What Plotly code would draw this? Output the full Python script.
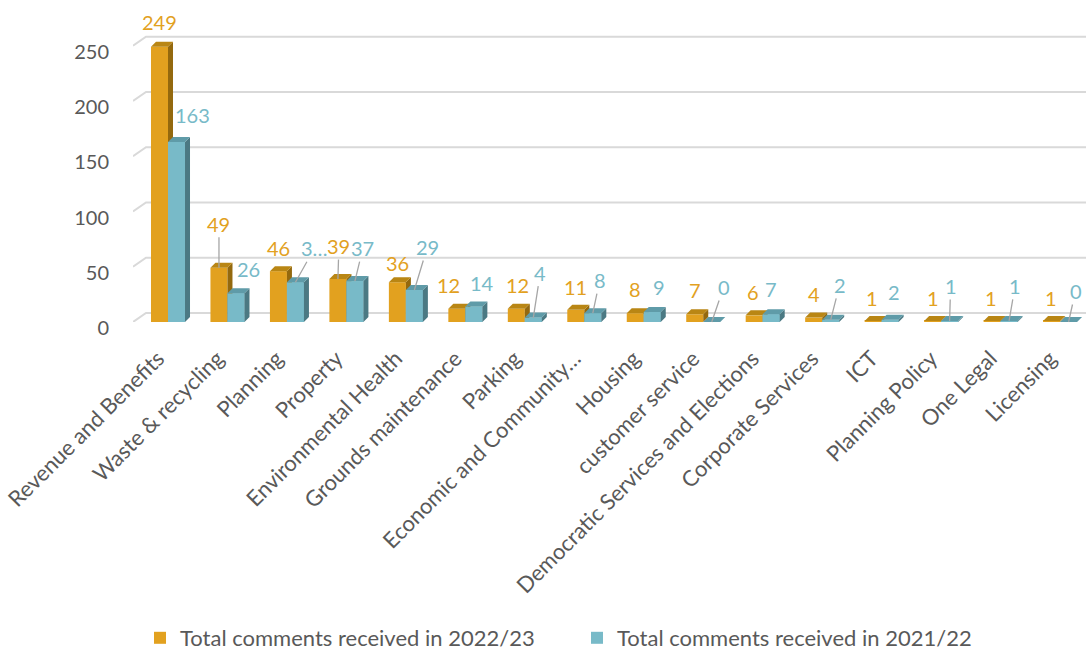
import plotly.graph_objects as go

categories = ["Revenue and Benefits", "Waste & recycling", "Planning", "Property",
              "Environmental Health", "Grounds maintenance", "Parking",
              "Economic and Community…", "Housing", "customer service",
              "Democratic Services and Elections", "Corporate Services", "ICT",
              "Planning Policy", "One Legal", "Licensing"]
vals_2022 = [249, 49, 46, 39, 36, 12, 12, 11, 8, 7, 6, 4, 1, 1, 1, 1]
vals_2021 = [163, 26, 36, 37, 29, 14, 4, 8, 9, 0, 7, 2, 2, 1, 1, 0]
name_2022 = "Total comments received in 2022/23"
name_2021 = "Total comments received in 2021/22"
labels_2022 = [str(v) for v in vals_2022]
labels_2021 = [str(v) for v in vals_2021]
labels_2021[2] = "3…"
y_ticks = [0, 50, 100, 150, 200, 250]

# label placement (pixel offsets from bar top) and leader-line flags
off_2022 = [(0, -25), (0, -44), (0, -23), (1, -33), (0, -19), (-8, -24), (1, -24), (0, -23),
            (0, -24), (0, -24), (-1, -23), (0, -24), (-1, -23), (0, -23), (-1, -23), (-1, -23)]
lead_2022 = [0, 1, 0, 1, 0, 0, 0, 0, 0, 0, 0, 0, 0, 0, 0, 0]
off_2021 = [(16, -27), (13, -24), (19, -34), (8, -33), (13, -43), (8, -24), (7, -45), (7, -33),
            (7, -25), (12, -35), (0, -25), (9, -35), (4, -28), (1, -35), (6, -35), (7, -31)]
lead_2021 = [0, 0, 1, 1, 1, 0, 1, 1, 0, 1, 0, 1, 0, 1, 1, 1]

ORANGE, ORANGE_SIDE, ORANGE_TOP = "#E2A11F", "#94690E", "#B98614"
TEAL, TEAL_SIDE, TEAL_TOP = "#78BAC8", "#4B7983", "#5F9BA8"
GRID = "#D9D9D9"
TXT = "#595959"
FONT = "Lato"

W, H = 1086, 650
ml, mr, mt, mb = 133, 0, 20, 328
pw, ph = W - ml - mr, H - mt - mb
sx = 59.47            # px per category
sy = 1.105            # px per unit
x_lo = -(168 - ml) / sx
x_hi = x_lo + pw / sx
y_hi = ph / sy
bargap = 0.428
half = (1 - bargap) / 2

n = len(categories)
xs = list(range(n))

fig = go.Figure()
fig.add_trace(go.Bar(x=xs, y=vals_2022, name=name_2022, marker=dict(color=ORANGE, line=dict(width=0))))
fig.add_trace(go.Bar(x=xs, y=vals_2021, name=name_2021, marker=dict(color=TEAL, line=dict(width=0))))

shapes = []
# back-wall gridlines with perspective
gdx, gdy = 13 / sx, 9 / sy
for v in y_ticks:
    shapes.append(dict(type="path", xref="x", yref="y", layer="below",
                       path=f"M {x_lo},{v} L {x_lo + gdx},{v + gdy} L {x_hi},{v + gdy}",
                       line=dict(color=GRID, width=2)))

ddx, ddy = 5 / sx, 5 / sy


def box(x0, x1, v, front, side, top, with_front):
    out = []
    if with_front:
        out.append(dict(type="rect", xref="x", yref="y", x0=x0, x1=x1, y0=0, y1=v,
                        fillcolor=front, line=dict(width=0), layer="above"))
    out.append(dict(type="path", xref="x", yref="y", layer="above",
                    path=f"M {x1},0 L {x1 + ddx},{ddy} L {x1 + ddx},{v + ddy} L {x1},{v} Z",
                    fillcolor=side, line=dict(width=0)))
    out.append(dict(type="path", xref="x", yref="y", layer="above",
                    path=f"M {x0},{v} L {x1},{v} L {x1 + ddx},{v + ddy} L {x0 + ddx},{v + ddy} Z",
                    fillcolor=top, line=dict(width=0)))
    return out


for i in xs:
    shapes += box(i - half, i, vals_2022[i], ORANGE, ORANGE_SIDE, ORANGE_TOP, False)
    shapes += box(i, i + half, vals_2021[i], TEAL, TEAL_SIDE, TEAL_TOP, True)

annotations = []
for i in xs:
    for vals, labs, offs, leads, col, xc in (
            (vals_2022, labels_2022, off_2022, lead_2022, ORANGE, i - half / 2),
            (vals_2021, labels_2021, off_2021, lead_2021, TEAL, i + half / 2)):
        ax, ay = offs[i]
        annotations.append(dict(
            x=xc, y=vals[i], xref="x", yref="y", text=labs[i], showarrow=True,
            ax=ax, ay=ay, axref="pixel", ayref="pixel", arrowhead=0, standoff=0,
            arrowwidth=1.3, arrowcolor="#A6A6A6" if leads[i] else "rgba(0,0,0,0)",
            font=dict(family=FONT, size=20, color=col)))

fig.update_layout(
    width=W, height=H, margin=dict(l=ml, r=mr, t=mt, b=mb, autoexpand=False),
    paper_bgcolor="white", plot_bgcolor="white",
    barmode="group", bargap=bargap, bargroupgap=0,
    shapes=shapes, annotations=annotations,
    font=dict(family=FONT, color=TXT),
    xaxis=dict(range=[x_lo, x_hi], tickmode="array", tickvals=xs, ticktext=categories,
               tickangle=-45, showgrid=False, zeroline=False, showline=False,
               ticks="outside", ticklen=14, tickcolor="rgba(0,0,0,0)", automargin=False,
               ticklabelshift=-10,
               tickfont=dict(family=FONT, size=22, color=TXT)),
    yaxis=dict(range=[0, y_hi], tickmode="array", tickvals=y_ticks,
               showgrid=False, zeroline=False, showline=False,
               ticks="outside", ticklen=19, tickcolor="rgba(0,0,0,0)", automargin=False,
               ticklabelshift=6,
               tickfont=dict(family=FONT, size=20, color=TXT)),
    legend=dict(orientation="h", xref="container", yref="container",
                x=577 / W, y=1 - 638 / H, xanchor="center", yanchor="middle",
                font=dict(family=FONT, size=22, color=TXT),
                entrywidth=392, itemwidth=30, traceorder="normal"),
    showlegend=True,
)

fig.write_html("out.html", config={"displayModeBar": False},
               post_script="document.body.style.margin='0';document.body.style.overflow='hidden';")
